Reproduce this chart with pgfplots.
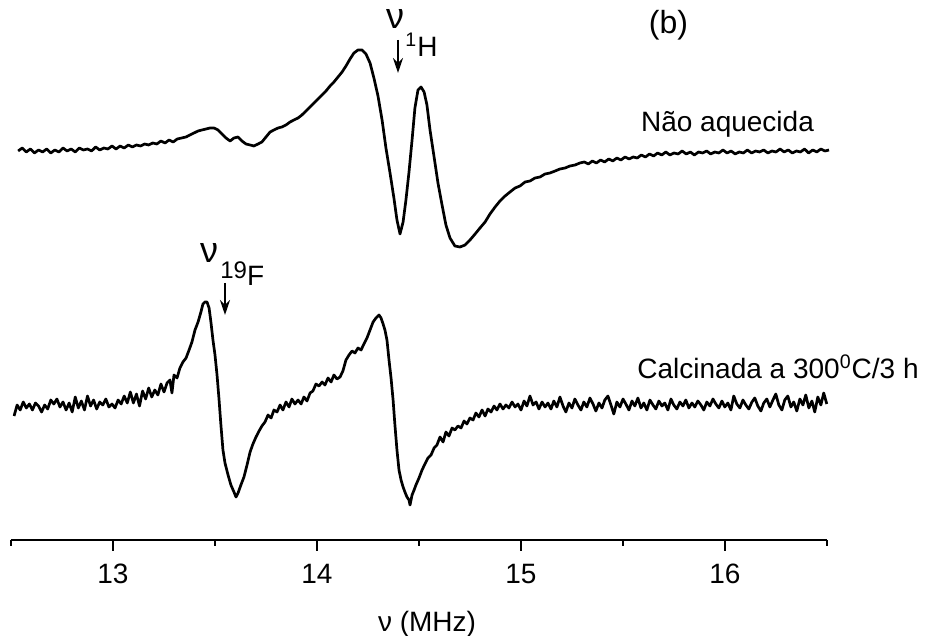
\documentclass[border=0pt]{standalone}
\usepackage{fontspec}
\setmainfont{Liberation Sans}
\usepackage{pgfplots}
\pgfplotsset{compat=1.18}
\usetikzlibrary{arrows.meta}
\newcommand{\fs}{\fontsize{14}{16}\selectfont}
\begin{document}
\begin{tikzpicture}
\useasboundingbox (0,0) rectangle (466pt,318pt);
\begin{axis}[
  at={(5.5pt,48pt)}, anchor=south west,
  scale only axis, width=408pt, height=270pt,
  xmin=12.5, xmax=16.5, ymin=3, ymax=543,
  axis x line=bottom, axis y line=none,
  x axis line style={-, line width=1.4pt},
  xtick={13,14,15,16}, minor xtick={12.5,13.5,14.5,15.5,16.5},
  tick align=outside, major tick length=5.5pt, minor tick length=3pt,
  major tick style={black, line width=1.2pt},
  minor tick style={black, line width=1.2pt},
  /pgf/number format/assume math mode=true,
  xticklabel style={font=\fs, yshift=-3pt},
  clip=false,
]
% Nao aquecida
\addplot[black, line width=1.35pt, line join=round] coordinates {
(12.535,392)(12.555,395)(12.575,391)(12.595,394)(12.615,390)(12.635,393)(12.655,391)(12.675,394)(12.695,390)(12.715,393)
(12.735,391)(12.755,395)(12.775,392)(12.795,394)(12.815,391)(12.835,395)(12.855,393)(12.875,394)(12.895,392)(12.915,396)
(12.935,393)(12.955,395)(12.975,394)(12.995,397)(13.015,394)(13.035,397)(13.055,395)(13.075,398)(13.095,396)(13.115,398)
(13.135,397)(13.155,399)(13.175,398)(13.195,400)(13.215,399)(13.235,402)(13.255,400)(13.275,403)(13.295,401)(13.315,404)
(13.358,406)(13.377,408)(13.397,410)(13.417,412)(13.436,413)(13.456,414)(13.476,415)(13.495,415)(13.515,413)(13.534,409)
(13.554,405)(13.574,402)(13.593,405)(13.613,406)(13.632,402)(13.652,399)(13.672,398)(13.691,397)(13.711,399)(13.730,401)
(13.750,406)(13.770,411)(13.789,413)(13.809,415)(13.828,416)(13.848,418)(13.868,421)(13.887,423)(13.907,425)(13.926,428)
(13.946,432)(13.966,436)(13.985,440)(14.005,444)(14.025,448)(14.044,452)(14.064,457)(14.083,461)(14.103,466)(14.123,471)
(14.142,477)(14.162,484)(14.181,490)(14.201,493)(14.221,493)(14.240,489)(14.260,480)(14.279,465)(14.299,447)(14.319,423)
(14.338,395)(14.358,370)(14.377,345)(14.392,323)(14.407,309)(14.422,321)(14.436,343)(14.451,371)(14.466,403)(14.480,435)
(14.495,453)(14.510,456)(14.525,451)(14.539,438)(14.554,413)(14.574,386)(14.593,360)(14.613,338)(14.632,318)(14.652,305)
(14.676,297)(14.701,296)(14.726,298)(14.750,303)(14.775,309)(14.799,315)(14.824,321)(14.848,329)(14.873,336)(14.897,342)
(14.922,347)(14.946,351)(14.971,355)(14.995,357)(15.020,361)(15.044,362)(15.069,365)(15.093,366)(15.118,369)(15.142,370)
(15.167,372)(15.191,374)(15.216,375)(15.240,377)(15.265,378)(15.289,380)
(15.31,381)(15.33,379)(15.35,382)(15.37,380)(15.39,383)(15.41,381)(15.43,384)(15.45,382)(15.47,385)(15.49,383)
(15.51,386)(15.53,384)(15.55,386)(15.57,385)(15.59,388)(15.61,386)(15.63,389)(15.65,387)(15.67,390)(15.69,388)
(15.71,391)(15.73,388)(15.75,390)(15.77,389)(15.79,392)(15.81,389)(15.83,391)(15.85,388)(15.87,391)(15.89,390)
(15.91,392)(15.93,389)(15.95,391)(15.97,390)(15.99,393)(16.01,390)(16.03,392)(16.05,389)(16.07,391)(16.09,390)
(16.11,393)(16.13,390)(16.15,392)(16.17,391)(16.19,393)(16.21,390)(16.23,392)(16.25,391)(16.27,394)(16.29,391)
(16.31,393)(16.33,390)(16.35,392)(16.37,391)(16.39,394)(16.41,390)(16.43,393)(16.45,391)(16.47,394)(16.49,392)
(16.51,393)
};
% Calcinada
\addplot[black, line width=1.35pt, line join=round] coordinates {
(12.515,127)(12.530,138)(12.545,133)(12.560,141)(12.575,135)(12.590,139)(12.605,133)(12.620,140)(12.635,137)(12.650,131)
(12.665,138)(12.680,134)(12.695,143)(12.710,139)(12.725,144)(12.740,136)(12.755,141)(12.770,133)(12.785,140)(12.800,131)
(12.815,146)(12.830,135)(12.845,142)(12.860,133)(12.875,147)(12.890,137)(12.905,143)(12.920,134)(12.935,141)(12.950,138)
(12.965,144)(12.980,136)(12.995,139)(13.010,135)(13.025,143)(13.040,139)(13.055,147)(13.070,140)(13.085,151)(13.100,140)
(13.115,149)(13.130,137)(13.145,152)(13.160,144)(13.175,155)(13.190,146)(13.205,153)(13.220,148)(13.235,159)(13.250,151)
(13.265,160)
(13.279,163)(13.289,150)(13.299,168)(13.314,165)(13.328,175)(13.343,181)(13.358,185)(13.373,193)(13.387,201)(13.402,213)
(13.417,221)(13.431,231)(13.441,239)(13.451,241)(13.461,241)(13.471,235)(13.480,221)(13.490,203)(13.500,188)(13.510,168)
(13.520,143)(13.529,118)(13.539,93)(13.549,80)(13.564,68)(13.578,58)(13.593,51)(13.603,46)(13.613,50)(13.627,58)
(13.642,66)(13.657,78)(13.672,91)(13.686,99)(13.701,106)(13.716,112)(13.730,117)(13.745,121)(13.760,128)(13.775,125)
(13.789,133)(13.804,131)(13.819,138)(13.833,133)(13.848,141)(13.863,136)(13.877,144)(13.892,139)(13.907,143)(13.922,139)
(13.936,146)(13.951,142)(13.966,150)(13.980,152)(13.995,159)(14.010,157)(14.025,161)(14.039,158)(14.054,165)(14.069,161)
(14.083,168)(14.098,164)(14.113,166)(14.127,172)(14.142,183)(14.157,188)(14.172,192)(14.186,190)(14.201,195)(14.216,193)
(14.230,199)(14.245,205)(14.260,213)(14.275,221)(14.289,225)(14.304,228)(14.314,225)(14.324,219)(14.333,213)(14.343,203)
(14.353,183)(14.363,165)(14.373,143)(14.382,118)(14.392,93)(14.402,73)(14.412,63)(14.422,56)(14.431,51)(14.441,46)
(14.451,43)(14.456,38)(14.466,48)(14.476,53)(14.485,58)(14.500,65)(14.515,73)(14.529,79)(14.544,85)(14.559,88)
(14.574,95)(14.588,98)(14.603,106)(14.618,101)(14.632,111)(14.647,107)(14.662,115)(14.676,113)(14.691,117)(14.706,115)
(14.721,122)(14.735,119)(14.750,125)(14.765,123)(14.779,130)(14.794,126)(14.809,133)(14.824,127)(14.838,134)(14.853,131)
(14.868,137)(14.882,133)(14.897,139)(14.912,134)(14.926,138)(14.941,135)(14.956,141)(14.971,136)(14.985,139)(15.000,133)
(15.015,142)(15.029,137)(15.044,147)(15.059,138)(15.074,141)(15.088,134)(15.103,141)(15.118,136)
(15.132,140)(15.147,134)(15.161,142)(15.176,136)(15.191,146)(15.206,137)(15.220,131)(15.235,140)(15.250,135)(15.264,144)
(15.279,138)(15.294,133)(15.308,141)(15.323,136)(15.338,145)(15.353,139)(15.367,132)(15.382,140)(15.397,135)(15.411,143)
(15.426,147)(15.441,138)(15.455,129)(15.470,141)(15.485,136)(15.500,144)(15.514,139)(15.529,133)(15.544,142)(15.558,137)
(15.573,145)(15.588,135)(15.602,140)(15.617,133)(15.632,143)(15.647,138)(15.661,134)(15.676,142)(15.691,137)(15.705,140)
(15.720,133)(15.735,144)(15.749,138)(15.764,134)(15.779,141)(15.794,137)(15.808,143)(15.823,135)(15.838,140)(15.852,136)
(15.867,142)(15.882,138)(15.896,133)(15.911,141)(15.926,137)(15.941,144)(15.955,139)(15.970,135)(15.985,142)(15.999,136)
(16.014,140)(16.029,133)(16.043,147)(16.058,139)(16.073,135)(16.088,143)(16.102,138)(16.117,134)(16.132,141)(16.146,145)
(16.161,137)(16.176,132)(16.190,140)(16.205,144)(16.220,136)(16.235,143)(16.249,149)(16.264,138)(16.279,133)(16.293,143)
(16.308,147)(16.323,136)(16.337,141)(16.352,132)(16.367,144)(16.382,138)(16.396,148)(16.411,135)(16.426,142)(16.440,131)
(16.455,146)(16.470,138)(16.484,150)(16.499,139)
};
\end{axis}
\node[font=\fontsize{16}{18}\selectfont] at (334.25pt,305.5pt) {(b)};
\node[font=\fontsize{18}{20}\selectfont] at (197.5pt,308.5pt) {ν};
\node[font=\fs, anchor=west, inner sep=0pt] at (202.5pt,295.5pt) {\textsuperscript{1}H};
\draw[-{Stealth[length=7.5pt,width=5pt]}, line width=1.1pt] (199pt,298pt) -- (199pt,281.5pt);
\node[font=\fontsize{18}{20}\selectfont] at (104.5pt,191.5pt) {ν};
\node[font=\fs, anchor=west, inner sep=0pt] at (110pt,181.25pt) {\raisebox{0.25em}{\fontsize{12}{13}\selectfont 19}F};
\draw[-{Stealth[length=7.5pt,width=5pt]}, line width=1.1pt] (112.5pt,176.5pt) -- (112.5pt,160.5pt);
\node[font=\fs] at (363.75pt,256pt) {Não aquecida};
\node[font=\fs] at (389pt,134.5pt) {Calcinada a 300\textsuperscript{0}C/3 h};
\node[font=\fs] at (213.5pt,6pt) {ν (MHz)};
\end{tikzpicture}
\end{document}
